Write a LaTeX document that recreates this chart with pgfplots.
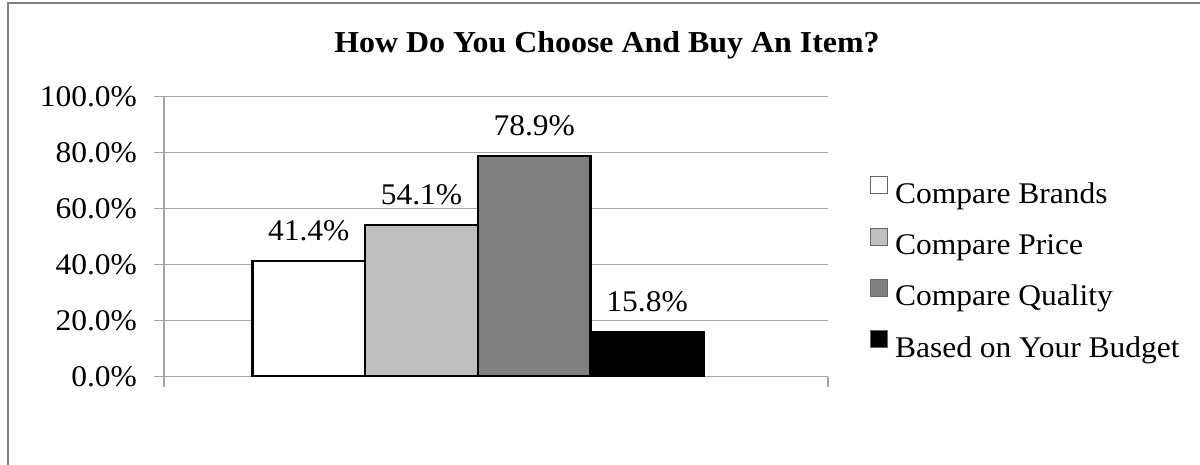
\documentclass[border=0pt]{standalone}
\usepackage{fontspec}
\setmainfont{Liberation Serif}[FakeStretch=1.05]
\usepackage{pgfplots}
\pgfplotsset{compat=1.18}
\definecolor{gridgray}{RGB}{166,166,166}
\definecolor{framegray}{RGB}{128,128,128}
\definecolor{lightbar}{RGB}{191,191,191}
\definecolor{midbar}{RGB}{128,128,128}
\newcommand{\chartfont}{\fontsize{15}{18}\selectfont}
\pgfplotsset{
  legsq/.style={legend image code/.code={\draw[##1, draw=black!60, line width=0.5pt] (0pt,1.2pt) rectangle (8.5pt,9.7pt);}}
}
\begin{document}
\begin{tikzpicture}
\clip (0,0) rectangle (600pt,232.5pt);
\draw[framegray, line width=1pt] (4pt,231pt) rectangle (640pt,-30pt);
\node[font=\fontsize{15.2}{18}\selectfont\bfseries] at (303.5pt,210pt) {How Do You Choose And Buy An Item?};
\begin{axis}[
  at={(82pt,44.15pt)}, anchor=south west,
  scale only axis, width=332pt, height=140pt,
  xmin=-1.283, xmax=4.604, ymin=0, ymax=100,
  axis x line*=bottom, axis y line*=left,
  axis line style={gridgray, line width=0.8pt},
  ytick={0,20,40,60,80,100},
  ymajorgrids, grid style={gridgray, line width=0.8pt},
  yticklabel={\pgfmathprintnumber[fixed,fixed zerofill,precision=1]{\tick}\%},
  yticklabel style={xshift=-5pt},
  xtick={-1.283,4.604}, xticklabels={},
  tick align=outside, major tick length=5pt, tick style={gridgray, line width=0.8pt},
  /pgf/number format/assume math mode=true,
  font=\chartfont,
  ybar, bar width=1,
  nodes near coords={\pgfmathprintnumber[fixed,fixed zerofill,precision=1]{\pgfplotspointmeta}\%},
  every node near coord/.append style={inner sep=0pt, yshift=9.5pt, font=\chartfont, black},
  legend style={at={(1.0633,0.716)}, anchor=north west, draw=none, fill=none,
    inner sep=0pt, outer sep=0pt, row sep=9.2pt, font=\chartfont,
    nodes={inner sep=0pt, text height=10pt, text depth=3pt},
    /tikz/every odd column/.append style={column sep=3.5pt}},
  legend cell align=left,
]
\addplot[bar shift=0pt, fill=white, draw=black, line width=1.2pt, legsq] coordinates {(0,41.4)};
\addlegendentry{Compare Brands}
\addplot[bar shift=0pt, fill=lightbar, draw=black, line width=1.2pt, legsq] coordinates {(1,54.1)};
\addlegendentry{Compare Price}
\addplot[bar shift=0pt, fill=midbar, draw=black, line width=1.2pt, legsq] coordinates {(2,78.9)};
\addlegendentry{Compare Quality}
\addplot[bar shift=0pt, fill=black, draw=black, line width=1.2pt, legsq] coordinates {(3,15.8)};
\addlegendentry{Based on Your Budget}
\end{axis}
\end{tikzpicture}
\end{document}
